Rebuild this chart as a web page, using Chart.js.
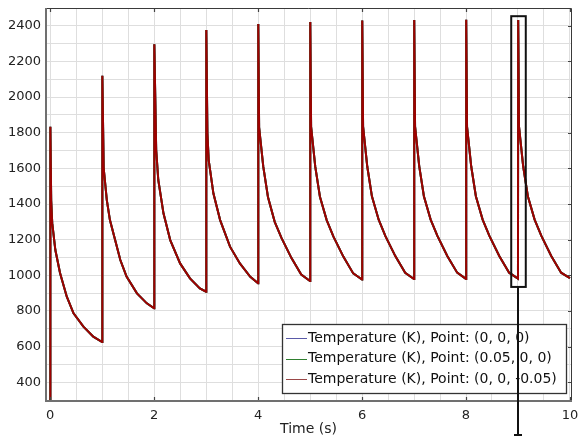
<!DOCTYPE html>
<html>
<head>
<meta charset="utf-8">
<script src="https://cdn.jsdelivr.net/npm/chart.js@4.4.0/dist/chart.umd.min.js"></script>
<style>
html, body { margin: 0; padding: 0; background: #fff; }
#wrap { width: 578px; height: 438px; }
</style>
</head>
<body>
<div id="wrap"><canvas id="myChart" width="578" height="438"></canvas></div>
<script>
// time (s) and temperature (K), one line per heating cycle
const timeS = [
    0, 0.004, 0.02, 0.04, 0.1, 0.19, 0.32, 0.45, 0.64, 0.83, 1.0,
    1.004, 1.03, 1.09, 1.15, 1.25, 1.35, 1.47, 1.67, 1.86, 2.0,
    2.004, 2.04, 2.08, 2.18, 2.31, 2.5, 2.69, 2.88, 3.0,
    3.004, 3.025, 3.05, 3.14, 3.27, 3.46, 3.65, 3.85, 4.0,
    4.004, 4.02, 4.1, 4.19, 4.32, 4.45, 4.64, 4.83, 5.0,
    5.004, 5.02, 5.1, 5.19, 5.32, 5.45, 5.64, 5.83, 6.0,
    6.004, 6.02, 6.1, 6.19, 6.32, 6.45, 6.64, 6.83, 7.0,
    7.004, 7.02, 7.1, 7.19, 7.32, 7.45, 7.64, 7.83, 8.0,
    8.004, 8.02, 8.1, 8.19, 8.32, 8.45, 8.64, 8.83, 9.0,
    9.004, 9.02, 9.1, 9.19, 9.32, 9.45, 9.64, 9.83, 10.0
];
const tempK = [
    293, 1834, 1420, 1293, 1142, 1013, 880, 787, 712, 656, 626,
    2120, 1600, 1422, 1310, 1198, 1086, 993, 899, 843, 815,
    2297, 1703, 1535, 1348, 1198, 1067, 983, 927, 908,
    2376, 1798, 1647, 1460, 1310, 1161, 1067, 992, 955,
    2410, 1830, 1610, 1440, 1300, 1210, 1098, 1005, 968,
    2422, 1834, 1610, 1441, 1310, 1217, 1105, 1011, 976,
    2430, 1836, 1612, 1443, 1312, 1220, 1108, 1014, 979,
    2433, 1836, 1613, 1444, 1313, 1221, 1109, 1015, 980,
    2434, 1834, 1612, 1444, 1313, 1221, 1109, 1015, 982,
    2432, 1834, 1612, 1444, 1313, 1221, 1109, 1015, 984
];
// the three probe points overlap completely in the picture
const tempCenter = tempK;
const tempSide = tempK;
const tempBottom = tempK;

const seriesLabels = [
    "Temperature (K), Point: (0, 0, 0)",
    "Temperature (K), Point: (0.05, 0, 0)",
    "Temperature (K), Point: (0, 0, -0.05)"
];
const seriesColors = ["#3b3ba6", "#1f7a1f", "#9e0000"];
const legendColors = ["#5a5aa8", "#2f7f2f", "#9a4848"];

const xTickLabels = [0, 2, 4, 6, 8, 10];
const yTickLabels = [400, 600, 800, 1000, 1200, 1400, 1600, 1800, 2000, 2200, 2400];

const font = "'DejaVu Sans', sans-serif";

function toPoints(ys) {
    return timeS.map((t, i) => ({ x: t, y: ys[i] }));
}

// grid every 0.5 s and every 100 K, labels only on the lists above
function gridTicks(from, to, step) {
    const out = [];
    for (let v = from; v <= to + 1e-9; v += step) out.push({ value: Math.round(v * 100) / 100 });
    return out;
}

const extrasPlugin = {
    id: "extras",
    afterDatasetsDraw(chart) {
        const ctx = chart.ctx;
        const a = chart.chartArea;
        const xs = chart.scales.x;
        const ys = chart.scales.y;
        ctx.save();
        ctx.strokeStyle = "#444";
        ctx.lineWidth = 1.2;
        ctx.beginPath();
        xTickLabels.forEach((v) => {
            const px = Math.round(xs.getPixelForValue(v)) + 0.5;
            ctx.moveTo(px, a.bottom);
            ctx.lineTo(px, a.bottom - 4);
            ctx.moveTo(px, a.top);
            ctx.lineTo(px, a.top + 4);
        });
        yTickLabels.forEach((v) => {
            const py = Math.round(ys.getPixelForValue(v)) + 0.5;
            ctx.moveTo(a.right, py);
            ctx.lineTo(a.right - 3, py);
        });
        ctx.stroke();

        // frame: grey left/bottom axes, dark thin top/right
        ctx.strokeStyle = "#3a3a3a";
        ctx.lineWidth = 1;
        ctx.beginPath();
        ctx.moveTo(a.left, a.top + 0.5);
        ctx.lineTo(a.right + 0.5, a.top + 0.5);
        ctx.lineTo(a.right + 0.5, a.bottom);
        ctx.stroke();
        ctx.strokeStyle = "#707070";
        ctx.lineWidth = 2;
        ctx.beginPath();
        ctx.moveTo(a.left, a.top);
        ctx.lineTo(a.left, a.bottom);
        ctx.lineTo(a.right + 1, a.bottom);
        ctx.stroke();
        ctx.restore();
    },
    afterDraw(chart) {
        const ctx = chart.ctx;
        const a = chart.chartArea;
        const xs = chart.scales.x;
        const ys = chart.scales.y;
        ctx.save();

        // legend box inside lower right corner
        const bx = a.right - 289, by = a.bottom - 77, bw = 284, bh = 69;
        ctx.fillStyle = "#fff";
        ctx.fillRect(bx, by, bw, bh);
        ctx.strokeStyle = "#333";
        ctx.lineWidth = 1.3;
        ctx.strokeRect(bx + 0.5, by + 0.5, bw, bh);
        ctx.font = "14px " + font;
        ctx.textBaseline = "middle";
        ctx.fillStyle = "#111";
        seriesLabels.forEach((lab, i) => {
            const ry = by + 14 + i * 20.5;
            ctx.strokeStyle = legendColors[i];
            ctx.lineWidth = 1;
            ctx.beginPath();
            ctx.moveTo(bx + 4, Math.round(ry) + 0.5);
            ctx.lineTo(bx + 25, Math.round(ry) + 0.5);
            ctx.stroke();
            ctx.fillText(lab, bx + 26, ry);
        });

        // marker box with pointer line
        const x0 = xs.getPixelForValue(8.87), x1 = xs.getPixelForValue(9.15);
        const y0 = ys.getPixelForValue(2454), y1 = ys.getPixelForValue(935);
        const xm = xs.getPixelForValue(9.0);
        ctx.strokeStyle = "#111";
        ctx.lineWidth = 2;
        ctx.strokeRect(x0, y0, x1 - x0, y1 - y0);
        ctx.beginPath();
        ctx.moveTo(xm, y1);
        ctx.lineTo(xm, chart.height - 2);
        ctx.stroke();
        ctx.beginPath();
        ctx.moveTo(xm - 4, chart.height - 3);
        ctx.lineTo(xm + 4, chart.height - 3);
        ctx.stroke();
        ctx.restore();
    }
};

const ctx = document.getElementById("myChart").getContext("2d");
const myChart = new Chart(ctx, {
    type: "line",
    data: {
        datasets: [
            { label: seriesLabels[0], data: toPoints(tempCenter), borderColor: seriesColors[0], order: 2 },
            { label: seriesLabels[1], data: toPoints(tempSide), borderColor: seriesColors[1], order: 1 },
            { label: seriesLabels[2], data: toPoints(tempBottom), borderColor: seriesColors[2], order: 0 },
        ],
    },
    options: {
        responsive: false,
        animation: false,
        devicePixelRatio: 1,
        layout: { padding: { top: 8, right: 7, left: 0, bottom: 0 } },
        elements: {
            point: { radius: 0 },
            line: { borderWidth: 2, tension: 0, fill: false },
        },
        plugins: { legend: { display: false }, tooltip: { enabled: false } },
        scales: {
            x: {
                type: "linear",
                min: -0.08,
                max: 10.02,
                border: { display: false },
                grid: { color: "#dedede", lineWidth: 1, drawTicks: false },
                afterBuildTicks: (s) => { s.ticks = gridTicks(0, 10, 0.5); },
                ticks: {
                    autoSkip: false,
                    maxRotation: 0,
                    padding: 7,
                    color: "#222",
                    font: { family: font, size: 13 },
                    callback: (v) => (xTickLabels.includes(v) ? String(v) : ""),
                },
                title: {
                    display: true,
                    text: "Time (s)",
                    color: "#222",
                    font: { family: font, size: 14 },
                    padding: 0,
                },
                afterFit: (s) => { s.height = 37; s.paddingLeft = 0; s.paddingRight = 0; },
            },
            y: {
                min: 295,
                max: 2500,
                border: { display: false },
                grid: { color: "#dedede", lineWidth: 1, drawTicks: false },
                afterBuildTicks: (s) => { s.ticks = gridTicks(300, 2500, 100); },
                ticks: {
                    autoSkip: false,
                    padding: 5,
                    color: "#222",
                    font: { family: font, size: 13 },
                    callback: (v) => (yTickLabels.includes(v) ? String(v) : ""),
                },
                afterFit: (s) => { s.width = 46; s.paddingTop = 0; s.paddingBottom = 0; },
            },
        },
    },
    plugins: [extrasPlugin],
});
</script>
</body>
</html>
